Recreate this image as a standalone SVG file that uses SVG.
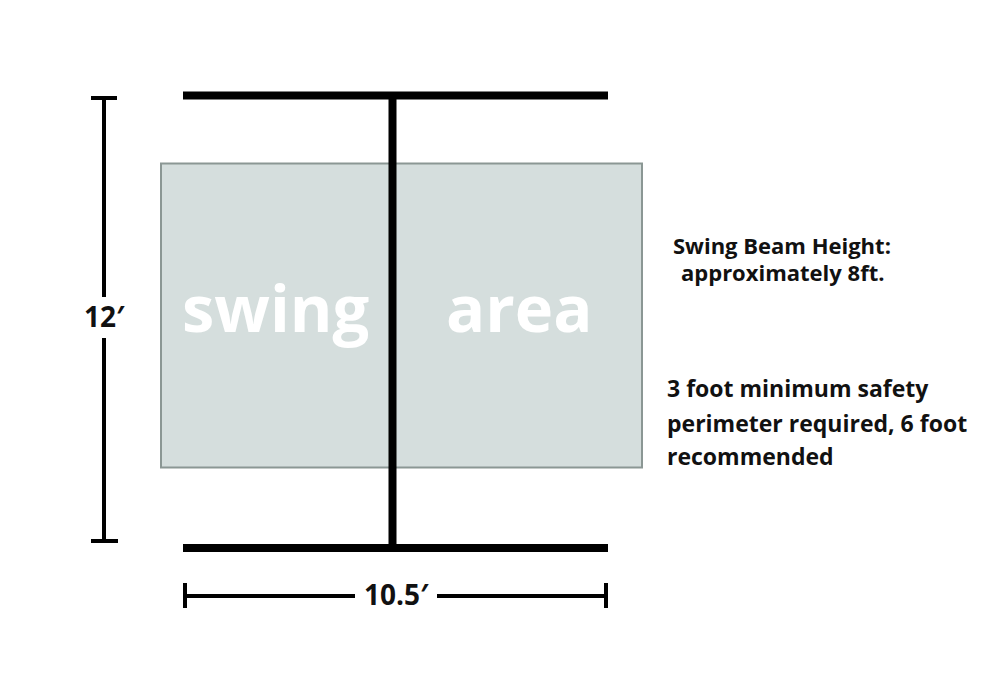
<svg xmlns="http://www.w3.org/2000/svg" width="1000" height="700" viewBox="0 0 1000 700">
<style>
.beam{stroke:#000;stroke-width:8;fill:none}
.dim{stroke:#000;stroke-width:4;fill:none}
.lbl{font-family:"Open Sans","Liberation Sans",sans-serif;font-weight:bold;fill:#111}
.big{font-family:"Open Sans","Liberation Sans",sans-serif;font-weight:bold;fill:#fff;font-size:65px}
</style>
<rect width="1000" height="700" fill="#fff"/>
<g id="swing-area">
<rect x="161" y="163.5" width="481" height="304" fill="#d5dedd" stroke="#8b9794" stroke-width="2"/>
<text class="big" x="182" y="332">swing</text>
<text class="big" x="446" y="332">area</text>
</g>
<g id="frame">
<line class="beam" x1="183" y1="95.5" x2="608" y2="95.5"/>
<line class="beam" x1="183" y1="548" x2="608" y2="548"/>
<line class="beam" x1="392.5" y1="96" x2="392.5" y2="548"/>
</g>
<g id="dim-height">
<line class="dim" x1="104" y1="98" x2="104" y2="297"/>
<line class="dim" x1="104" y1="338" x2="104" y2="541"/>
<line class="dim" x1="91" y1="98" x2="117" y2="98"/>
<line class="dim" x1="91" y1="541" x2="118" y2="541"/>
<text class="lbl" x="84" y="327" font-size="28">12′</text>
</g>
<g id="dim-width">
<line class="dim" x1="185" y1="596" x2="355" y2="596"/>
<line class="dim" x1="437" y1="596" x2="606" y2="596"/>
<line class="dim" x1="185" y1="583" x2="185" y2="608"/>
<line class="dim" x1="606" y1="583" x2="606" y2="608"/>
<text class="lbl" x="364" y="605" font-size="28">10.5′</text>
</g>
<g id="notes">
<text class="lbl" x="673" y="254" font-size="22">Swing Beam Height:</text>
<text class="lbl" x="681" y="281" font-size="22">approximately 8ft.</text>
<text class="lbl" x="667" y="397" font-size="23">3 foot minimum safety</text>
<text class="lbl" x="667" y="432" font-size="23">perimeter required, 6 foot</text>
<text class="lbl" x="667" y="465" font-size="23">recommended</text>
</g>
</svg>
